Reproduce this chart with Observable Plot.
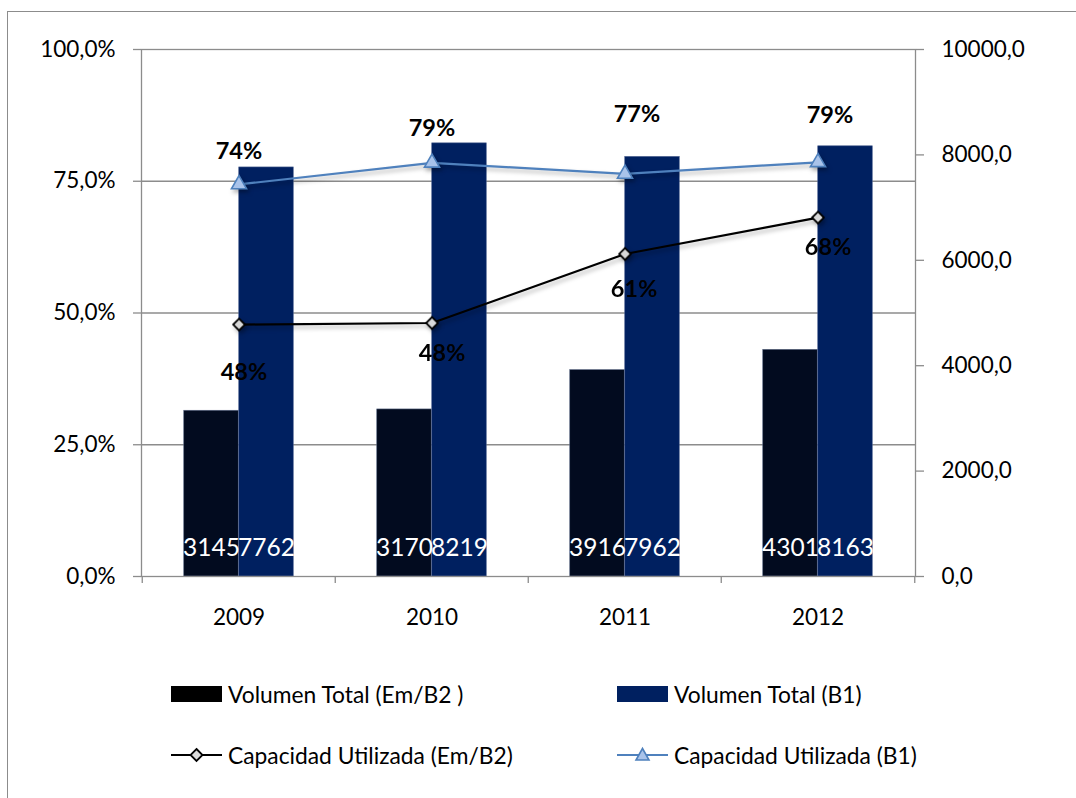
<!DOCTYPE html>
<html>
<head>
<meta charset="utf-8">
<script src="https://cdn.jsdelivr.net/npm/d3@7"></script>
<script src="https://cdn.jsdelivr.net/npm/@observablehq/plot@0.6"></script>
<style>
  html, body { margin: 0; padding: 0; background: #fff; overflow: hidden; }
  body { width: 1076px; height: 798px; position: relative; font-family: Lato, "Open Sans", sans-serif; }
  #border { position: absolute; left: 7px; top: 11px; width: 1200px; height: 900px; border-left: 1.5px solid #8c8c8c; border-top: 1.5px solid #8c8c8c; }
  #chart { position: absolute; left: 0; top: 0; }
  .leg { position: absolute; display: flex; align-items: center; font-size: 22.8px; color: #000; white-space: nowrap; }
  .leg svg { margin-right: 6px; }
</style>
</head>
<body>
<div id="border"></div>
<div id="chart"></div>
<div id="legend"></div>
<script>
// ---- data ----
const years = ["2009", "2010", "2011", "2012"];
const volEm = [3145, 3170, 3916, 4301];
const volB1 = [7762, 8219, 7962, 8163];
const capEm = [0.478, 0.481, 0.612, 0.681];
const capB1 = [0.744, 0.785, 0.764, 0.786];
const capEmLabels = ["48%", "48%", "61%", "68%"];
const capB1Labels = ["74%", "79%", "77%", "79%"];
const leftTicks = [0, 0.25, 0.5, 0.75, 1];
const rightTickValues = [0, 2000, 4000, 6000, 8000, 10000];
const rightMax = 10000;
const seriesNames = ["Volumen Total (Em/B2 )", "Volumen Total (B1)", "Capacidad Utilizada (Em/B2)", "Capacidad Utilizada (B1)"];

// ---- styles ----
const gray = "#8c8c8c";
const cEmBar = "#020b1f";
const cB1Bar = "#002060";
const cB1Line = "#4f81bd";
const bandW = 774 / 4;
const barW = 55;
const axisFont = 22.5;
const emLabelOff = [{dx: 5, dy: 48}, {dx: 10, dy: 30}, {dx: 9, dy: 35}, {dx: 10, dy: 30}];
const b1LabelOff = [{dx: 0, dy: -33}, {dx: 0, dy: -34}, {dx: 12, dy: -59}, {dx: 12, dy: -47}];

const rows = years.map((y, i) => ({year: y, em: volEm[i] / rightMax, b1: volB1[i] / rightMax, emRaw: volEm[i], b1Raw: volB1[i], capEm: capEm[i], capB1: capB1[i], lEm: capEmLabels[i], lB1: capB1Labels[i]}));

const fmtPct = d => (d * 100).toFixed(1).replace(".", ",") + "%";
const fmtRight = d => (d * rightMax).toFixed(1).replace(".", ",");

const labelMarks = [];
rows.forEach((r, i) => {
  labelMarks.push(Plot.text([r], {x: "year", y: "capB1", text: "lB1", dx: b1LabelOff[i].dx, dy: b1LabelOff[i].dy, fontSize: 23.5, fontWeight: "bold", fill: "#000"}));
  labelMarks.push(Plot.text([r], {x: "year", y: "capEm", text: "lEm", dx: emLabelOff[i].dx, dy: emLabelOff[i].dy, fontSize: 23.5, fontWeight: "bold", fill: "#000"}));
});

const plot = Plot.plot({
  width: 1076,
  height: 650,
  marginLeft: 141,
  marginRight: 161,
  marginTop: 49,
  marginBottom: 74,
  style: {fontFamily: "Lato, 'Open Sans', sans-serif", background: "transparent", overflow: "visible"},
  x: {type: "band", domain: years, padding: 0, label: null},
  y: {domain: [0, 1], label: null},
  marks: [
    Plot.ruleY(leftTicks.filter(d => d > 0 && d < 1), {stroke: gray, strokeWidth: 1.3}),
    Plot.barY(rows, {x: "year", y: "em", fill: cEmBar, stroke: "#5a6784", strokeWidth: 0.6, insetLeft: bandW / 2 - barW, insetRight: bandW / 2}),
    Plot.barY(rows, {x: "year", y: "b1", fill: cB1Bar, stroke: "#4a5f8f", strokeWidth: 0.6, insetLeft: bandW / 2, insetRight: bandW / 2 - barW}),
    Plot.frame({stroke: gray, strokeWidth: 1.3}),
    Plot.ruleX(years, {x: d => d, dx: -bandW / 2, stroke: gray, strokeWidth: 1.3, insetTop: 527, insetBottom: -7}),
    Plot.ruleX([years[years.length - 1]], {x: d => d, dx: bandW / 2, stroke: gray, strokeWidth: 1.3, insetTop: 527, insetBottom: -7}),
    Plot.axisY({anchor: "left", ticks: leftTicks, tickFormat: fmtPct, tickSize: 8, tickPadding: 18, fontSize: axisFont, stroke: gray, strokeWidth: 1.3, label: null}),
    Plot.axisY({anchor: "right", ticks: rightTickValues.map(v => v / rightMax), tickFormat: fmtRight, tickSize: 8, tickPadding: 18, fontSize: axisFont, stroke: gray, strokeWidth: 1.3, label: null}),
    Plot.axisX({anchor: "bottom", tickSize: 0, tickPadding: 33, fontSize: axisFont, label: null}),
    Plot.text(rows, {x: "year", y: 0, text: d => String(d.emRaw), dx: -barW / 2, dy: -28, fill: "#fff", fontSize: 24.5}),
    Plot.text(rows, {x: "year", y: 0, text: d => String(d.b1Raw), dx: barW / 2, dy: -28, fill: "#fff", fontSize: 24.5}),
    Plot.line(rows, {x: "year", y: "capEm", stroke: "#000", strokeWidth: 2.2}),
    Plot.line(rows, {x: "year", y: "capB1", stroke: cB1Line, strokeWidth: 2.2}),
    Plot.dot(rows, {x: "year", y: "capEm", symbol: "diamond2", r: 5.3, fill: "#d9d9d9", stroke: "#000", strokeWidth: 1.8}),
    Plot.dot(rows, {x: "year", y: "capB1", symbol: "triangle", r: 5.6, fill: "#a9c3ea", stroke: cB1Line, strokeWidth: 1.6}),
    ...labelMarks
  ]
});
plot.querySelectorAll('g[aria-label="line"], g[aria-label="dot"]').forEach(g => g.style.filter = "drop-shadow(2px 3px 2px rgba(0,0,0,0.3))");
plot.querySelectorAll('g[aria-label="y-axis tick label"], g[aria-label="x-axis tick label"]').forEach(g => g.setAttribute("fill", "#000"));
document.getElementById("chart").appendChild(plot);

// ---- legend ----
const legend = document.getElementById("legend");
const legItems = [
  {name: seriesNames[0], left: 171, top: 694, kind: "rect", color: "#000"},
  {name: seriesNames[1], left: 617, top: 694, kind: "rect", color: cB1Bar},
  {name: seriesNames[2], left: 171, top: 755, kind: "diamond", color: "#000"},
  {name: seriesNames[3], left: 617, top: 755, kind: "triangle", color: cB1Line}
];
legItems.forEach(it => {
  const div = document.createElement("div");
  div.className = "leg";
  div.style.left = it.left + "px";
  div.style.top = (it.top - 15) + "px";
  div.style.height = "30px";
  let sym = "";
  if (it.kind === "rect") sym = `<rect x="0" y="7" width="51" height="16" fill="${it.color}"/>`;
  else if (it.kind === "diamond") sym = `<line x1="0" y1="15" x2="51" y2="15" stroke="#000" stroke-width="2.2"/><path d="M25.5,9 L31.5,15 L25.5,21 L19.5,15 Z" fill="#d9d9d9" stroke="#000" stroke-width="1.8"/>`;
  else sym = `<line x1="0" y1="15" x2="51" y2="15" stroke="${cB1Line}" stroke-width="2.2"/><path d="M25.5,8.5 L32,20 L19,20 Z" fill="#a9c3ea" stroke="${cB1Line}" stroke-width="1.6"/>`;
  div.innerHTML = `<svg width="51" height="30">${sym}</svg><span>${it.name}</span>`;
  legend.appendChild(div);
});
</script>
</body>
</html>
